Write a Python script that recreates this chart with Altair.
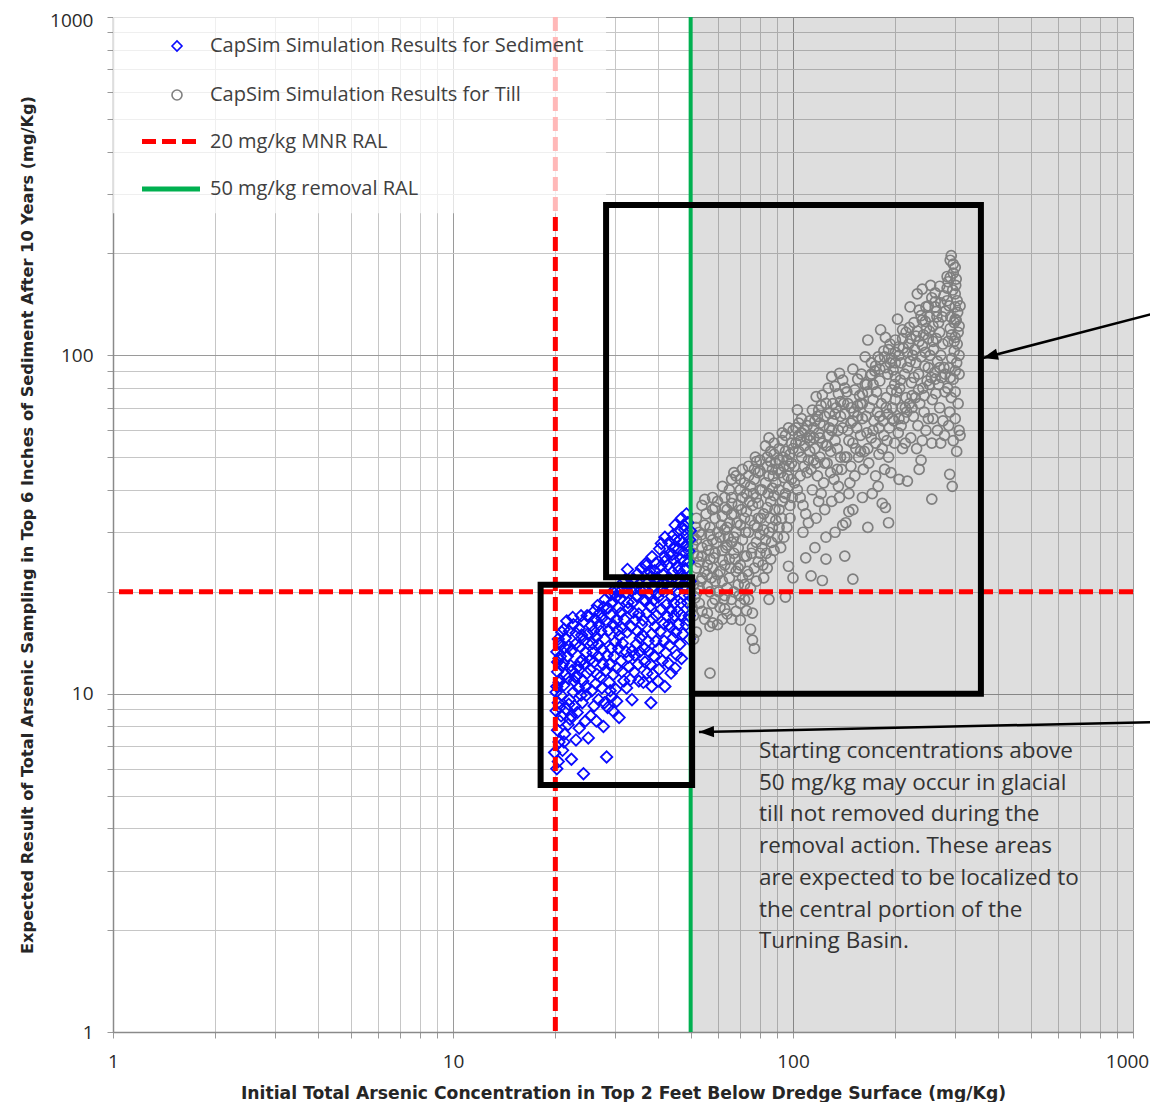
import altair as alt
import pandas as pd

# ---------------- labels ----------------
SED_LABEL = "CapSim Simulation Results for Sediment"
TILL_LABEL = "CapSim Simulation Results for Till"
MNR_LABEL = "20 mg/kg MNR RAL"
REM_LABEL = "50 mg/kg removal RAL"

point_series = [SED_LABEL, TILL_LABEL]
point_colors = ["#0a0aff", "#7f7f7f"]
point_shapes = ["diamond", "circle"]
line_series = [MNR_LABEL, REM_LABEL]
line_colors = ["#ff0000", "#00b050"]
line_dashes = [[14, 6], [1, 0]]

mnr_ral = [20]
removal_ral = [50]

axis_ticks = [1, 2, 3, 4, 5, 6, 7, 8, 9, 10, 20, 30, 40, 50, 60, 70, 80, 90,
              100, 200, 300, 400, 500, 600, 700, 800, 900, 1000]
major_ticks = [1, 10, 100, 1000]

x_title = "Initial Total Arsenic Concentration in Top 2 Feet Below Dredge Surface (mg/Kg)"
y_title = "Expected Result of Total Arsenic Sampling in Top 6 Inches of Sediment After 10 Years  (mg/Kg)"

note_lines = ["Starting concentrations above",
              "50 mg/kg may occur in glacial",
              "till not removed during the",
              "removal action.  These  areas",
              "are expected to be localized to",
              "the central portion of the",
              "Turning Basin."]

# ---------------- simulation results ----------------
sediment_points = [
    (20.2, 6.0), (19.9, 6.7), (20.5, 7.2), (20.3, 7.8), (20.6, 8.3), (20.1, 8.9), (20.4, 9.4), (20.8, 9.9),
    (20.2, 10.5), (20.6, 11.0), (20.3, 11.6), (20.9, 12.1), (20.5, 12.7), (20.2, 13.3), (20.7, 13.9),
    (20.4, 14.5), (20.9, 15.2), (20.1, 10.1), (20.6, 9.1), (20.3, 12.4),
    (21.0, 6.8), (21.3, 7.6), (21.8, 8.1), (22.3, 8.6), (21.5, 9.0), (22.0, 9.6), (22.6, 10.1), (21.2, 10.6),
    (21.8, 11.1), (22.4, 11.7), (21.1, 12.3), (21.7, 12.9), (22.3, 13.4), (22.9, 14.0), (21.4, 14.6),
    (22.0, 15.3), (22.6, 16.0), (21.6, 16.4), (22.8, 9.2), (21.3, 13.7), (22.2, 12.1), (22.9, 11.2),
    (23.5, 7.9), (24.2, 5.8), (23.2, 8.8), (24.0, 9.4), (24.7, 9.9), (23.4, 10.4), (24.1, 10.9), (24.8, 11.5),
    (23.3, 12.0), (24.0, 12.6), (24.6, 13.2), (23.6, 13.8), (24.3, 14.4), (24.9, 15.0), (23.5, 15.6),
    (24.2, 16.3), (24.8, 17.0), (23.8, 17.0), (25.0, 7.4), (24.5, 8.3), (23.1, 11.3), (24.4, 12.2), (23.9, 14.9),
    (25.4, 8.6), (26.0, 9.2), (26.8, 9.6), (25.6, 10.2), (26.3, 10.7), (27.1, 11.2), (25.3, 11.8), (26.0, 12.4),
    (26.7, 12.9), (27.5, 13.5), (25.7, 14.1), (26.4, 14.7), (27.2, 15.3), (25.5, 15.9), (26.2, 16.6),
    (27.0, 17.3), (27.7, 18.0), (26.6, 18.2), (27.7, 8.0), (25.8, 13.2), (27.4, 10.4), (26.9, 16.0),
    (28.0, 19.0), (27.9, 14.5),
    (28.3, 6.5), (28.5, 9.1), (29.3, 9.8), (30.1, 10.3), (30.8, 8.5), (28.8, 10.8), (29.6, 11.4), (30.4, 11.9),
    (31.2, 12.5), (28.4, 13.0), (29.2, 13.6), (30.0, 14.2), (30.9, 14.8), (28.7, 15.4), (29.5, 16.0),
    (30.3, 16.6), (31.1, 17.3), (28.6, 17.9), (29.4, 18.6), (30.2, 19.3), (31.0, 20.0), (29.8, 19.8),
    (31.6, 21.3), (31.8, 10.9), (31.5, 15.6), (28.9, 12.2), (30.6, 18.0), (29.1, 19.6),
    (32.6, 23.3), (33.6, 9.6), (32.4, 10.4), (33.2, 11.0), (34.1, 11.6), (35.0, 12.2), (32.8, 12.8),
    (33.7, 13.4), (34.6, 14.0), (35.5, 14.6), (32.5, 15.2), (33.4, 15.8), (34.3, 16.5), (35.2, 17.2),
    (32.9, 17.9), (33.8, 18.6), (34.7, 19.4), (35.6, 20.2), (33.1, 21.0), (34.0, 21.8), (34.9, 22.6),
    (35.8, 23.5), (32.2, 19.8), (35.4, 13.3), (34.4, 20.5),
    (36.8, 24.2), (38.5, 25.4), (38.2, 9.4), (36.3, 10.8), (37.2, 11.5), (38.1, 12.2), (39.0, 12.9),
    (36.6, 13.6), (37.5, 14.3), (38.4, 15.0), (39.3, 15.8), (36.2, 16.5), (37.1, 17.3), (38.0, 18.1),
    (38.9, 18.9), (39.8, 19.7), (36.5, 20.5), (37.4, 21.3), (38.3, 22.2), (39.2, 23.1), (37.0, 23.9),
    (39.5, 24.3), (38.7, 11.4), (36.9, 18.8), (39.6, 17.0),
    (42.0, 25.4), (42.0, 29.0), (42.0, 10.5), (45.0, 11.9), (40.4, 11.8), (41.3, 12.5), (42.3, 13.2),
    (43.3, 13.9), (44.3, 14.6), (40.7, 15.3), (41.7, 16.1), (42.7, 16.9), (43.7, 17.7), (44.7, 18.5),
    (40.2, 19.3), (41.2, 20.2), (42.2, 21.1), (43.2, 22.0), (44.2, 22.9), (40.9, 23.8), (41.9, 24.6),
    (43.5, 26.0), (44.5, 27.0), (40.5, 26.8), (45.0, 28.5), (43.0, 12.3), (44.0, 20.5), (41.0, 17.8),
    (48.6, 34.0), (45.0, 31.5), (47.7, 31.5), (44.5, 29.5), (46.5, 28.5), (48.6, 29.5), (45.5, 13.0),
    (46.5, 14.0), (47.5, 15.0), (48.5, 16.0), (49.5, 17.0), (45.8, 17.5), (46.8, 18.5), (47.8, 19.5),
    (48.8, 20.5), (49.8, 21.5), (45.3, 20.0), (46.3, 21.2), (47.3, 22.3), (48.3, 23.4), (49.3, 24.5),
    (45.7, 23.8), (46.7, 25.0), (47.7, 26.2), (48.7, 27.3), (49.7, 28.5), (46.0, 26.8), (49.0, 32.0),
    (47.0, 12.7), (49.5, 14.5), (48.0, 30.5), (46.0, 16.0),
    (20.4, 6.3), (21.2, 7.2), (20.8, 8.6), (21.9, 9.3), (20.5, 10.8), (21.4, 11.4), (20.7, 12.9), (21.9, 13.8),
    (20.6, 14.1), (21.2, 15.5), (22.5, 16.8), (23.0, 15.1), (23.7, 12.4), (22.7, 10.9), (23.8, 9.9),
    (22.1, 8.4), (24.6, 10.5), (25.3, 12.6), (24.9, 14.1), (25.9, 15.3), (26.8, 14.0), (27.6, 12.2),
    (26.5, 11.4), (28.2, 11.7), (29.0, 10.2), (29.8, 12.9), (30.7, 13.6), (31.5, 14.1), (32.3, 13.3),
    (30.5, 15.4), (29.2, 17.1), (28.3, 16.3), (27.4, 16.7), (26.1, 17.6), (25.1, 16.9), (31.9, 16.6),
    (32.7, 18.6), (33.9, 17.4), (34.9, 15.3), (36.1, 14.9), (37.7, 13.3), (39.5, 14.3), (40.2, 13.6),
    (41.8, 14.3), (43.6, 15.7), (45.2, 15.2), (46.9, 17.1), (48.9, 18.6), (47.5, 20.6), (45.6, 21.8),
    (43.9, 19.4), (42.4, 18.3), (40.8, 21.0), (39.1, 20.7), (37.8, 19.5), (36.4, 18.9), (35.3, 21.1),
    (33.5, 20.1), (32.1, 21.7), (31.2, 19.1), (29.9, 20.3), (37.9, 23.0), (39.9, 22.0), (41.5, 22.5),
    (42.9, 24.0), (44.6, 24.8), (46.2, 23.1), (47.9, 24.7), (49.4, 26.4), (48.1, 22.0), (49.6, 19.5),
    (49.1, 16.5), (44.8, 17.0), (43.1, 16.0), (38.6, 16.6), (35.9, 16.0), (34.2, 13.0), (33.0, 12.0),
    (29.5, 8.9), (26.4, 8.3), (23.0, 7.3), (35.2, 10.9), (36.7, 12.4), (38.4, 10.5), (40.1, 10.9),
    (43.8, 11.5), (27.9, 9.4), (30.3, 9.5), (31.4, 11.6), (22.3, 6.4), (41.0, 27.8), (43.2, 28.0),
    (46.0, 30.2), (47.2, 27.9), (49.9, 30.3), (44.1, 25.8), (47.0, 33.0),
]

till_points = [
    (51, 14.5), (52, 15.2), (51, 17), (53, 18.5), (52, 19.8), (51, 21), (54, 22), (52, 23.5), (53, 24.5),
    (51, 26), (54, 27), (52, 28.5), (53, 30), (55, 31.5), (52, 33), (54, 36), (55, 37.5), (53, 20.5),
    (55, 23), (54, 25.5), (51, 29), (55, 16.6), (54, 17.5),
    (57, 11.5), (57, 15.8), (56, 17.3), (58, 18.5), (57, 20), (59, 21.5), (56, 22.5), (58, 23.5), (57, 25),
    (59, 26), (56, 27.5), (58, 28.5), (60, 30), (57, 31), (59, 33), (58, 35), (60, 37), (56, 24), (59, 19),
    (58, 16.2), (60, 22.5), (57, 29.5),
    (62, 16.6), (61, 18), (63, 19.5), (64, 20.5), (62, 21.5), (65, 22), (61, 23), (63, 24), (65, 25),
    (62, 26.5), (64, 27.5), (66, 28), (61, 29), (63, 30.5), (65, 32), (62, 33.5), (64, 35), (66, 36.5),
    (63, 38), (65, 40), (66, 43), (64, 17.2), (66, 19), (62, 24.8), (64, 31),
    (66, 16.6), (68, 17.5), (70, 18.5), (72, 19), (67, 20), (69, 21), (71, 22), (68, 23), (70, 24),
    (72, 25.5), (67, 26), (69, 27), (71, 28.5), (68, 30), (70, 31.5), (72, 33), (67, 34), (69, 36), (71, 38),
    (70, 40), (72, 42), (68, 44), (71, 46), (69, 23.5), (72, 21), (67, 29),
    (73, 17.6), (74, 19), (76, 17.3), (76, 14.4), (77, 13.6), (75, 20.5), (78, 21.5), (74, 22.5),
    (77, 23.5), (79, 24.5), (73, 25.5), (76, 27), (78, 28), (80, 29.5), (74, 30), (77, 31.5), (79, 33),
    (73, 34.5), (76, 36), (78, 38), (80, 40), (75, 41), (77, 43), (79, 45), (74, 47), (78, 48.5),
    (77.5, 50), (80, 26), (75, 32.5), (79, 36.5),
    (82, 22), (84, 23.5), (86, 25), (88, 26.5), (81, 27), (83, 28.5), (85, 30), (87, 31), (89, 32.5),
    (82, 34), (84, 35.5), (86, 37), (88, 38.5), (81, 40), (83, 42), (85, 44), (87, 46), (89, 48), (84, 50),
    (86, 52), (83, 54), (88, 55), (85, 57), (90, 29), (82, 30.5), (87, 40.5), (89, 42),
    (91, 53), (93, 56), (95, 19.3), (97, 23.8), (92, 27), (94, 29), (96, 31), (98, 33), (91, 35), (93, 37),
    (95, 39), (97, 41), (99, 43), (92, 45), (94, 47), (96, 49), (98, 51), (100, 53), (93, 59), (97, 61),
    (99, 55), (95, 58), (91, 40), (98, 36), (94, 43.5),
    (102, 55), (104, 52), (106, 50), (108, 47), (110, 45), (101, 42), (103, 40), (105, 38), (107, 36),
    (109, 34), (111, 32), (103, 69), (109, 25.2), (102, 61), (106, 59), (110, 57), (104, 63), (108, 54),
    (112, 52), (112, 56), (101, 47), (105, 44), (107, 30), (111, 49),
    (113, 22.3), (114, 68.9), (117, 75.5), (119, 68.9), (122, 76.3), (125, 72.1), (122, 21.6), (125, 25),
    (125, 29), (115, 61), (119, 59), (122, 55), (116, 53), (120, 50), (124, 48), (113, 46), (118, 44),
    (123, 42), (114, 40), (119, 37), (124, 35), (117, 33), (121, 39), (112, 58), (116, 64), (123, 62),
    (120, 57), (115, 49),
    (128, 67.4), (128, 61), (130, 86.5), (133, 81), (137, 88.5), (130, 37), (137, 38), (133, 56), (135, 53),
    (138, 50), (126, 48), (129, 45), (132, 43), (136, 41), (139, 46), (127, 58), (131, 64), (134, 70),
    (138, 66), (126, 54), (140, 84.5), (140, 31.5), (136, 60), (129, 52),
    (143, 32), (146, 34.5), (142, 25.5), (150, 35), (146, 39), (150, 21.8), (140, 61), (146, 56), (153, 53),
    (156, 50), (148, 47), (152, 44), (144, 50), (150, 91), (155, 85), (152, 79), (158, 72), (145, 72),
    (142, 67), (148, 63), (154, 61), (158, 58), (160, 65), (157, 76), (144, 78), (151, 68), (159, 88),
    (147, 42),
    (163, 99), (166, 111), (170, 95), (175, 44), (178, 41), (171, 39), (166, 31), (162, 52), (166, 53),
    (170, 57), (175, 55), (179, 61), (164, 66), (168, 70), (172, 74), (176, 78), (180, 84), (163, 82),
    (169, 87), (174, 90), (178, 99), (161, 46), (167, 48), (173, 64), (177, 68), (181, 119), (179, 51),
    (183, 36.5), (187, 35.5), (191, 32), (183, 53), (191, 50), (187, 113), (191, 104), (186, 99), (193, 95),
    (197, 90.5), (200, 86.5), (182, 72), (188, 75), (195, 79), (199, 82), (184, 64), (190, 67), (196, 70),
    (200, 74), (185, 58), (192, 61), (198, 64), (189, 56), (194, 45), (186, 46), (199, 55),
    (203, 128), (210, 119), (200, 111), (207, 84.5), (210, 53), (204, 59), (208, 62), (212, 65), (216, 68),
    (220, 72), (224, 76), (202, 78), (206, 80), (213, 88), (217, 92), (221, 96), (225, 100), (205, 100),
    (211, 105), (219, 108), (217, 42.5), (222, 57), (214, 55), (221, 139), (223, 83), (215, 75), (209, 70),
    (232, 152), (240, 157), (235, 136), (246, 139), (252, 130), (240, 127), (228, 104), (235, 110),
    (242, 115), (247, 120), (230, 95), (238, 99), (245, 102), (250, 92), (227, 86), (234, 88), (241, 80),
    (248, 84), (229, 75), (236, 72), (243, 68), (250, 65), (233, 62), (240, 56), (246, 60), (231, 53),
    (238, 49), (226, 66), (244, 93),
    (254, 161), (262, 144), (262, 139), (264, 135), (256, 37.6), (256, 55), (252, 118), (258, 122),
    (264, 112), (270, 117), (276, 108), (253, 100), (259, 104), (266, 96), (272, 100), (278, 92), (255, 86),
    (261, 89), (268, 82), (274, 86), (280, 78), (257, 74), (263, 77), (270, 70), (276, 64), (258, 65),
    (266, 60), (272, 55), (279, 58), (268, 125), (275, 130),
    (284, 171), (286, 165), (292, 197), (290, 191), (296, 186), (301, 161), (300, 152), (295, 156),
    (289, 44.5), (294, 41), (300, 139), (305, 134), (302, 127), (308, 122), (306, 117), (300, 113),
    (304, 108), (290, 120), (286, 110), (298, 103), (293, 98), (288, 92), (303, 95), (308, 88), (296, 85),
    (285, 80), (300, 78), (292, 75), (306, 72), (289, 68), (300, 65), (308, 60), (296, 56), (287, 62),
    (303, 52), (310, 58), (284, 145), (291, 130), (298, 125),
    (50.5, 18), (51.5, 19.2), (53.5, 21.5), (52.5, 25.5), (50.8, 27.5), (53.8, 29.5), (51.8, 31), (55.5, 34),
    (56.5, 26.5), (58.5, 25.2), (57.5, 22), (60.5, 20), (59.5, 28), (61.5, 31.5), (63.5, 27), (62.5, 19),
    (65.5, 23.5), (64.5, 29), (67.5, 25), (69.5, 19.5), (68.5, 32), (70.5, 35), (72.5, 30), (73.5, 23),
    (75.5, 26), (74.5, 37), (76.5, 39), (78.5, 31), (80.5, 33), (81.5, 24), (83.5, 26), (85.5, 33),
    (84.5, 39), (86.5, 28), (88.5, 35), (87.5, 44), (90.5, 46), (92.5, 33), (94.5, 38), (96.5, 44),
    (93.5, 50), (97.5, 47), (99.5, 38), (58, 38), (62, 41), (67, 45), (60, 16), (63, 17.8), (70, 16.5),
    (56, 20.8), (66, 33.8), (73, 39), (80, 45.5), (86, 48.5), (91, 31), (100, 60), (106, 65), (110, 62),
    (115, 57), (118, 66), (121, 71), (105, 56), (117, 48), (125, 54), (130, 60), (133, 67), (138, 73),
    (142, 80), (145, 60), (150, 64), (155, 71), (160, 77), (165, 82), (170, 88), (175, 93), (180, 97),
    (185, 103), (190, 88), (195, 98), (200, 95), (205, 106), (210, 112), (215, 117), (220, 121), (227, 125),
    (232, 118), (238, 131), (245, 126), (250, 140), (256, 148), (262, 153), (270, 160), (278, 150),
    (284, 158), (290, 170), (296, 175), (302, 168), (300, 182), (288, 140), (280, 135), (272, 143),
    (265, 130), (258, 110), (250, 112), (240, 107), (230, 114), (222, 112), (217, 102), (208, 95),
    (200, 102), (193, 108), (187, 92), (180, 91), (172, 82), (166, 78), (160, 72), (155, 66), (148, 70),
    (141, 72), (136, 77), (131, 72), (127, 80), (124, 66), (120, 63), (112, 64), (108, 60), (104, 58),
    (99, 48), (95, 52), (91, 49), (88, 51), (84, 47), (80, 49), (77, 46), (74, 44), (70, 43), (66, 38),
    (63, 35.5), (59, 35.5), (135, 46), (142, 50), (150, 55), (158, 52), (165, 59), (172, 60), (180, 66),
    (188, 70), (196, 65), (205, 65), (214, 70), (224, 70), (234, 79), (243, 76), (252, 82), (262, 85),
    (270, 92), (280, 88), (290, 86), (300, 90), (308, 100), (298, 110), (310, 140), (304, 145), (300, 128),
    (293, 115), (75, 15.5), (85, 19), (100, 22), (116, 27), (133, 30), (160, 38), (205, 43), (235, 46),
]

# ---------------- annotation geometry (data units) ----------------
shade_x = [50, 1000]
shade_y = [1, 1000]
legend_panel_x = [1, 28.2]
legend_panel_y = [263, 1000]
till_box_x = [28.2, 357, 357, 50.5, 50.5, 28.2, 28.2]
till_box_y = [278, 278, 10, 10, 22.1, 22.1, 278]
sed_box_x = [18.1, 50.5]
sed_box_y = [5.37, 21.0]
arrow_id = [1, 1, 2, 2]
arrow_x = [1153, 362, 1153, 52.9]
arrow_y = [133, 98.2, 8.24, 7.70]
arrow_tip_x = [362, 52.9]
arrow_tip_y = [98.2, 7.70]
arrow_tip_angle = [345.3, 358.7]
note_x = [79.4]
note_y = [6.45]

# ---------------- frames ----------------
sed_df = pd.DataFrame(sediment_points, columns=["x", "y"]).assign(series=SED_LABEL)
till_df = pd.DataFrame(till_points, columns=["x", "y"]).assign(series=TILL_LABEL)
shade_df = pd.DataFrame({"x": [shade_x[0]], "x2": [shade_x[1]], "y": [shade_y[0]], "y2": [shade_y[1]]})
panel_df = pd.DataFrame({"x": [legend_panel_x[0]], "x2": [legend_panel_x[1]],
                         "y": [legend_panel_y[0]], "y2": [legend_panel_y[1]]})
mnr_v_df = pd.DataFrame({"x": mnr_ral, "series": [MNR_LABEL]})
mnr_h_df = pd.DataFrame({"y": mnr_ral, "series": [MNR_LABEL]})
rem_df = pd.DataFrame({"x": removal_ral, "series": [REM_LABEL]})
till_box_df = pd.DataFrame({"x": till_box_x, "y": till_box_y, "o": list(range(len(till_box_x)))})
sed_box_df = pd.DataFrame({"x": [sed_box_x[0]], "x2": [sed_box_x[1]], "y": [sed_box_y[0]], "y2": [sed_box_y[1]]})
arrow_df = pd.DataFrame({"id": arrow_id, "x": arrow_x, "y": arrow_y, "o": [0, 1, 0, 1]})
tip_df = pd.DataFrame({"x": arrow_tip_x, "y": arrow_tip_y, "angle": arrow_tip_angle})
note_df = pd.DataFrame({"x": note_x, "y": note_y, "text": ["\n".join(note_lines)]})

# ---------------- scales & axes ----------------
FONT = "Open Sans"
TITLE_FONT = "DejaVu Sans"
major_test = "indexof([1, 10, 100, 1000], datum.value) >= 0"
label_expr = "indexof([1, 10, 100, 1000], datum.value) >= 0 ? datum.label : ''"

xs = alt.Scale(type="log", domain=[1, 1000], nice=False)
ys = alt.Scale(type="log", domain=[1, 1000], nice=False)

common_axis = dict(
    values=axis_ticks, format="d", labelExpr=label_expr, labelOverlap=False, labelFlush=False,
    grid=True, gridColor={"condition": {"test": major_test, "value": "#9a9a9a"}, "value": "#c6c6c6"},
    gridWidth=1, tickColor="#9a9a9a", tickSize=6, domainColor="#8a8a8a", domainWidth=1.5,
    labelFont=FONT, labelFontSize=19, labelColor="#2a2a2a",
    titleFont=TITLE_FONT, titleFontWeight="bold", titleColor="#262626",
)
x_axis = alt.Axis(title=x_title, labelPadding=14, titleFontSize=17.2, titleY=61,
                  titleBaseline="middle",
                  labelOffset={"condition": {"test": "datum.value == 1000", "value": -6}, "value": 0},
                  **common_axis)
y_axis = alt.Axis(title=y_title, labelPadding=14, titleFontSize=16.2, titleX=-86, titleY=507.5,
                  titleAngle=270, titleBaseline="middle", titleAlign="center",
                  labelOffset={"condition": {"test": "datum.value == 1000", "value": 3.5}, "value": 0},
                  **common_axis)

X = alt.X("x:Q", scale=xs, axis=x_axis)
Y = alt.Y("y:Q", scale=ys, axis=y_axis)

legend_common = dict(title=None, orient="none", direction="vertical", legendX=0, padding=0,
                     symbolSize=100, labelFont=FONT, labelFontSize=20, labelColor="#404040",
                     labelLimit=700)
legend_pts = alt.Legend(legendY=19, symbolOffset=54, labelOffset=23, rowPadding=29,
                        symbolStrokeWidth=1.6, **legend_common)
legend_lines = alt.Legend(legendY=114.5, symbolOffset=48, labelOffset=29, rowPadding=27.5,
                          symbolType="M-5.8,0H5.8", symbolStrokeWidth=5, **legend_common)

pt_color = alt.Color("series:N", scale=alt.Scale(domain=point_series, range=point_colors), legend=legend_pts)
pt_shape = alt.Shape("series:N", scale=alt.Scale(domain=point_series, range=point_shapes), legend=legend_pts)
ln_stroke = alt.Stroke("series:N", scale=alt.Scale(domain=line_series, range=line_colors), legend=legend_lines)
ln_dash = alt.StrokeDash("series:N", scale=alt.Scale(domain=line_series, range=line_dashes), legend=legend_lines)

# ---------------- layers ----------------
shade = alt.Chart(shade_df).mark_rect(color="black", opacity=0.13).encode(
    x=X, x2="x2", y=Y, y2="y2")

till = alt.Chart(till_df).mark_point(filled=False, opacity=1, size=100, strokeWidth=1.7).encode(
    x=X, y=Y, color=pt_color, shape=pt_shape)
sed = alt.Chart(sed_df).mark_point(filled=False, opacity=1, size=130, strokeWidth=1.8).encode(
    x=X, y=Y, color=pt_color, shape=pt_shape)

mnr_v = alt.Chart(mnr_v_df).mark_rule(strokeWidth=5).encode(x=X, stroke=ln_stroke, strokeDash=ln_dash)
mnr_h = alt.Chart(mnr_h_df).mark_rule(strokeWidth=5).encode(y=Y, stroke=ln_stroke, strokeDash=ln_dash)
rem = alt.Chart(rem_df).mark_rule(strokeWidth=4).encode(x=X, stroke=ln_stroke, strokeDash=ln_dash)

panel = alt.Chart(panel_df).mark_rect(color="white", opacity=0.72).encode(x=X, x2="x2", y=Y, y2="y2")

till_box = alt.Chart(till_box_df).mark_line(color="black", strokeWidth=6, strokeJoin="miter",
                                            strokeCap="square").encode(x=X, y=Y, order="o:Q")
sed_box = alt.Chart(sed_box_df).mark_rect(fillOpacity=0, stroke="black", strokeWidth=6,
                                          strokeJoin="miter").encode(x=X, x2="x2", y=Y, y2="y2")

arrows = alt.Chart(arrow_df).mark_line(color="black", strokeWidth=2.5).encode(
    x=X, y=Y, detail="id:N", order="o:Q")
tips = alt.Chart(tip_df).mark_point(shape="M0,0L2,-0.75L2,0.75Z", filled=True, color="black",
                                    opacity=1, size=225, strokeWidth=0).encode(
    x=X, y=Y, angle=alt.Angle("angle:Q", scale=None))

note = alt.Chart(note_df).mark_text(align="left", baseline="alphabetic", lineBreak="\n",
                                    lineHeight=31.7, font=FONT, fontSize=22.5, color="#333333").encode(
    x=X, y=Y, text="text:N")

chart = alt.layer(shade, till, sed, mnr_v, mnr_h, rem, panel, till_box, sed_box, arrows, tips, note).properties(
    width=1020, height=1015,
    padding={"left": 105, "top": 9, "right": 17, "bottom": 70},
    autosize=alt.AutoSizeParams(type="none"),
    background="white",
).configure_view(stroke=None)

chart.save("out.html", embed_options={"renderer": "svg", "actions": False})
